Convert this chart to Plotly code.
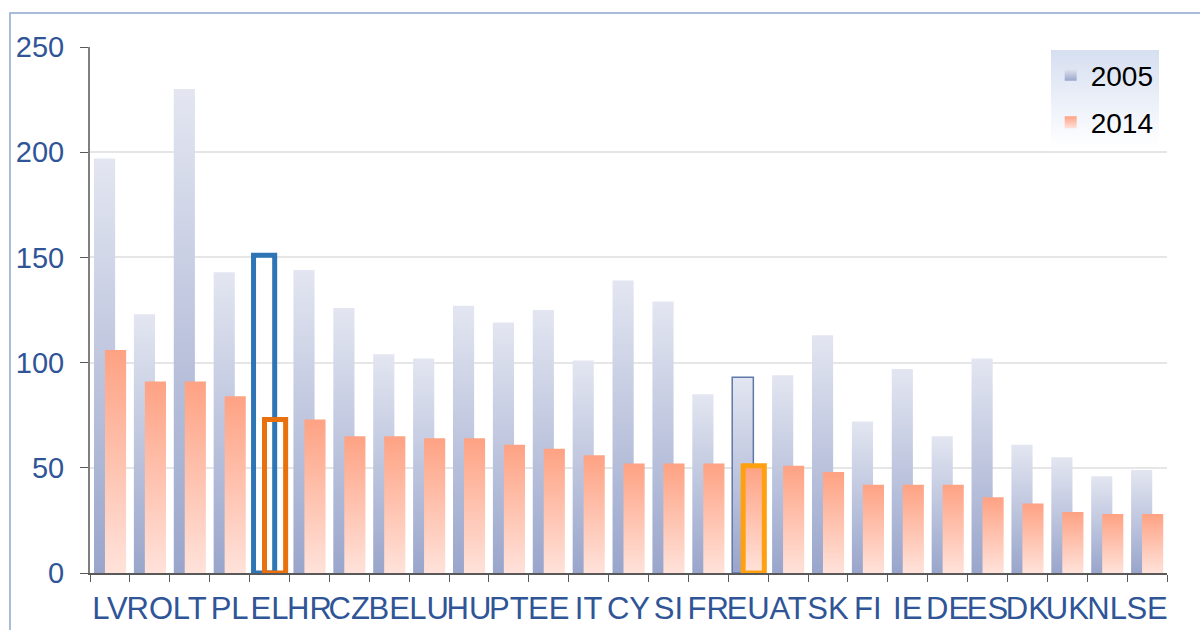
import plotly.graph_objects as go

# Data
countries = ["LV", "RO", "LT", "PL", "EL", "HR", "CZ", "BE", "LU", "HU", "PT", "EE", "IT", "CY",
             "SI", "FR", "EU", "AT", "SK", "FI", "IE", "DE", "ES", "DK", "UK", "NL", "SE"]
v2005 = [197, 123, 230, 143, 151, 144, 126, 104, 102, 127, 119, 125, 101, 139,
         129, 85, 93, 94, 113, 72, 97, 65, 102, 61, 55, 46, 49]
v2014 = [106, 91, 91, 84, 73, 73, 65, 65, 64, 64, 61, 59, 56, 52,
         52, 52, 51, 51, 48, 42, 42, 42, 36, 33, 29, 28, 28]

FONT = "Liberation Sans, Arial, sans-serif"
BLUE_TXT = "#2F5597"

# per-bar styling: EL is drawn as outlines only, EU gets an outline too
fill05, line05c, line05w = [], [], []
fill14, line14c, line14w = [], [], []
for c in countries:
    if c == "EL":
        fill05.append("rgba(0,0,0,0)"); line05c.append("#2E75B6"); line05w.append(5)
        fill14.append("rgba(0,0,0,0)"); line14c.append("#E8700F"); line14w.append(5)
    elif c == "EU":
        fill05.append("#C3CAE0"); line05c.append("#5E78A8"); line05w.append(1.5)
        fill14.append("#FFB9A0"); line14c.append("#FFA010"); line14w.append(5)
    else:
        fill05.append("#C3CAE0"); line05c.append("rgba(0,0,0,0)"); line05w.append(0)
        fill14.append("#FFB9A0"); line14c.append("rgba(0,0,0,0)"); line14w.append(0)

fig = go.Figure()
fig.add_trace(go.Bar(
    x=countries, y=v2005, name="2005", legendgroup="a",
    width=0.53, offset=-0.40,
    marker=dict(color=fill05, line=dict(color=line05c, width=line05w)),
))
fig.add_trace(go.Bar(
    x=countries, y=v2014, name="2014", legendgroup="b",
    width=0.53, offset=-0.125,
    marker=dict(color=fill14, line=dict(color=line14c, width=line14w)),
))

# outer frame of the original picture
fig.add_shape(type="rect", xref="paper", yref="paper",
              x0=-0.0743, y0=-0.2, x1=1.1, y1=1.0646,
              line=dict(color="#8EA6CF", width=1.5), fillcolor="rgba(0,0,0,0)", layer="below")

fig.update_layout(
    width=1200, height=630,
    margin=dict(l=90, r=33, t=47, b=57, autoexpand=False),
    paper_bgcolor="white", plot_bgcolor="white",
    barmode="overlay",
    showlegend=True,
    hovermode=False,
    font=dict(family=FONT),
    legend=dict(
        x=0.892, y=0.994, xanchor="left", yanchor="top",
        bgcolor="#E6ECF7", borderwidth=0,
        font=dict(size=28, color="black", family=FONT),
        traceorder="grouped", tracegroupgap=8,
        itemwidth=30,
    ),
    xaxis=dict(
        type="category", automargin=False,
        tickmode="array", tickvals=countries, tickangle=0,
        showline=True, linecolor="#595959", linewidth=1.5,
        ticks="outside", tickson="boundaries", ticklen=7, tickcolor="#595959",
        tickfont=dict(size=31, color=BLUE_TXT, family=FONT),
        ticklabelstandoff=7,
        showgrid=False,
    ),
    yaxis=dict(
        range=[0, 250], dtick=50, automargin=False,
        showline=True, linecolor="#7F7F7F", linewidth=2,
        ticks="outside", ticklen=8, tickcolor="#595959",
        tickfont=dict(size=29, color=BLUE_TXT, family=FONT),
        ticklabelstandoff=10,
        gridcolor="#E6E6E6", gridwidth=1.5,
        zeroline=False,
    ),
)

# vertical gradients as in the original (bars, legend swatches, legend box)
post = """
document.body.style.margin = '0';
var gd = document.getElementById('{plot_id}');
function grads() {
  var ns = 'http://www.w3.org/2000/svg';
  var svg = gd.querySelector('svg.main-svg');
  var defs = svg.querySelector('defs');
  function mk(id, top, bot) {
    if (document.getElementById(id)) return;
    var g = document.createElementNS(ns, 'linearGradient');
    g.setAttribute('id', id);
    g.setAttribute('x1', '0'); g.setAttribute('y1', '0');
    g.setAttribute('x2', '0'); g.setAttribute('y2', '1');
    [[0, top], [1, bot]].forEach(function (s) {
      var st = document.createElementNS(ns, 'stop');
      st.setAttribute('offset', s[0]);
      st.setAttribute('stop-color', s[1]);
      g.appendChild(st);
    });
    defs.appendChild(g);
  }
  mk('g2005', '#E3E6F1', '#99A5CB');
  mk('g2014', '#FEA283', '#FFE2DA');
  mk('gleg', '#D6DFF1', '#FFFFFF');
  var ids = ['g2005', 'g2014'];
  gd.querySelectorAll('.barlayer .trace').forEach(function (tr, i) {
    tr.querySelectorAll('.point path').forEach(function (p) {
      if (p.style.fillOpacity !== '0') p.style.fill = 'url(#' + ids[i] + ')';
    });
  });
  gd.querySelectorAll('.legend .traces').forEach(function (tr, i) {
    tr.querySelectorAll('.legendpoints path').forEach(function (p) {
      p.style.fill = 'url(#' + ids[i] + ')';
      p.style.stroke = 'none';
    });
  });
  var bg = gd.querySelector('.legend rect.bg');
  if (bg) bg.style.fill = 'url(#gleg)';
}
grads();
gd.on('plotly_afterplot', grads);
"""

fig.write_html("out.html", post_script=post, config={"displayModeBar": False})
